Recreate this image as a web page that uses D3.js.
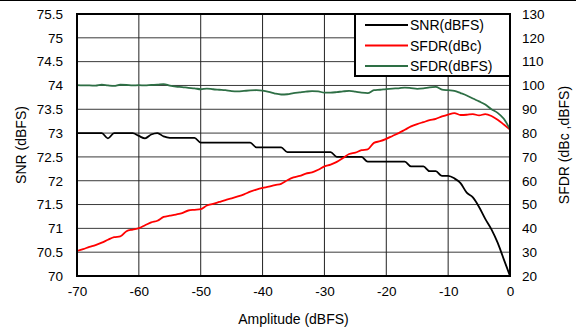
<!DOCTYPE html>
<html>
<head>
<meta charset="utf-8">
<script src="https://cdn.jsdelivr.net/npm/d3@7"></script>
<style>
  body { margin: 0; background: #fff; }
  text { font-family: "Liberation Sans", Arial, sans-serif; fill: #000; }
</style>
</head>
<body>
<div id="chart"></div>
<script>
const amplitude = d3.range(-70, 1); // -70 ... 0 dBFS, 1 dB steps

const snr = [
  73.0, 73.0, 73.0, 73.0, 73.0, 72.89, 73.0, 73.0, 73.0, 73.0,
  72.94, 72.89, 72.97, 73.0, 72.93, 72.9, 72.9, 72.9, 72.9, 72.9,
  72.8, 72.8, 72.8, 72.8, 72.8, 72.8, 72.8, 72.8, 72.8, 72.7,
  72.7, 72.7, 72.7, 72.7, 72.6, 72.6, 72.6, 72.6, 72.6, 72.6,
  72.6, 72.6, 72.5, 72.5, 72.5, 72.5, 72.5, 72.4, 72.4, 72.4,
  72.4, 72.4, 72.4, 72.4, 72.3, 72.3, 72.3, 72.2, 72.2, 72.1,
  72.1, 72.05, 71.95, 71.75, 71.65, 71.45, 71.2, 70.98, 70.7, 70.35,
  70.0
];

const sfdrDbc = [
  30.5, 31.3, 32.2, 33.0, 34.0, 35.2, 36.3, 36.6, 38.8, 39.5,
  40.1, 41.3, 42.5, 43.2, 44.8, 45.3, 45.8, 46.4, 47.5, 47.8,
  48.1, 49.6, 50.3, 51.1, 51.9, 52.6, 53.4, 54.3, 55.4, 56.3,
  57.0, 57.5, 58.2, 58.7, 60.2, 61.4, 62.0, 63.0, 63.5, 64.6,
  66.0, 66.8, 67.9, 69.5, 71.2, 71.8, 72.8, 73.2, 75.9, 76.6,
  77.6, 78.8, 80.0, 81.4, 82.8, 83.8, 84.6, 85.4, 86.0, 87.0,
  87.8, 88.4, 87.6, 87.7, 88.0, 87.4, 88.0, 87.2, 85.6, 83.6,
  81.5
];

const sfdrDbfs = [
  100.1, 100.0, 100.0, 99.9, 100.3, 100.0, 99.8, 100.3, 100.2, 100.0,
  100.1, 100.0, 100.2, 100.3, 100.6, 99.9, 99.5, 99.3, 99.0, 98.8,
  98.4, 98.7, 98.4, 98.2, 98.0, 97.6, 97.5, 97.7, 97.9, 98.0,
  97.8, 97.3, 96.6, 96.2, 96.3, 96.8, 97.1, 97.4, 97.6, 97.5,
  97.0, 97.0, 97.2, 97.5, 97.7, 97.4, 97.0, 96.8, 98.0, 98.2,
  98.5, 98.7, 98.8, 99.1, 98.9, 98.6, 98.8, 99.2, 99.4, 98.3,
  98.0, 97.7, 96.8, 95.8, 94.5, 93.3, 92.0, 90.0, 88.5, 86.0,
  81.6
];

const xTicks = [-70, -60, -50, -40, -30, -20, -10, 0];
const leftTicks = [70, 70.5, 71, 71.5, 72, 72.5, 73, 73.5, 74, 74.5, 75, 75.5];
const rightTicks = [20, 30, 40, 50, 60, 70, 80, 90, 100, 110, 120, 130];

const series = [
  { name: "SNR(dBFS)", values: snr, axis: "left", color: "#000000" },
  { name: "SFDR(dBc)", values: sfdrDbc, axis: "right", color: "#ff0000" },
  { name: "SFDR(dBFS)", values: sfdrDbfs, axis: "right", color: "#2e6f45" },
];

const width = 576, height = 329;
const marginLeft = 77, marginRight = 66, marginTop = 14, marginBottom = 53;

const svg = d3.select("#chart").append("svg")
  .attr("width", width)
  .attr("height", height);

const xScale = d3.scaleLinear().domain([-70, 0]).range([marginLeft, width - marginRight]);
const yLeft = d3.scaleLinear().domain([70, 75.5]).range([height - marginBottom, marginTop]);
const yRight = d3.scaleLinear().domain([20, 130]).range([height - marginBottom, marginTop]);

// thin line across the top edge
svg.append("line")
  .attr("x1", 0).attr("x2", width)
  .attr("y1", 0.5).attr("y2", 0.5)
  .attr("stroke", "#000").attr("stroke-width", 1);

// gridlines
svg.append("g")
  .selectAll("line")
  .data(leftTicks.slice(1, -1))
  .join("line")
  .attr("x1", marginLeft).attr("x2", width - marginRight)
  .attr("y1", (d) => yLeft(d)).attr("y2", (d) => yLeft(d))
  .attr("stroke", "#3a3a3a").attr("stroke-width", 1);

svg.append("g")
  .selectAll("line")
  .data(xTicks.slice(1, -1))
  .join("line")
  .attr("x1", (d) => xScale(d)).attr("x2", (d) => xScale(d))
  .attr("y1", marginTop).attr("y2", height - marginBottom)
  .attr("stroke", "#222").attr("stroke-width", 1);

// axes (labels only, frame drawn separately); plain hyphen minus like the original
const plain = (d) => String(d);
const xAxis = d3.axisBottom(xScale).tickValues(xTicks).tickSize(0).tickPadding(10).tickFormat(plain);
const leftAxis = d3.axisLeft(yLeft).tickValues(leftTicks).tickSize(0).tickPadding(14).tickFormat(plain);
const rightAxis = d3.axisRight(yRight).tickValues(rightTicks).tickSize(0).tickPadding(12).tickFormat(plain);

const styleAxis = (g) => {
  g.select(".domain").remove();
  g.selectAll("text")
    .style("font-family", '"Liberation Sans", Arial, sans-serif')
    .style("font-size", "13.5px")
    .attr("fill", "#000");
};

svg.append("g")
  .attr("transform", `translate(0,${height - marginBottom})`)
  .call(xAxis).call(styleAxis);
svg.append("g")
  .attr("transform", `translate(${marginLeft},0)`)
  .call(leftAxis).call(styleAxis);
svg.append("g")
  .attr("transform", `translate(${width - marginRight},0)`)
  .call(rightAxis).call(styleAxis);

// data lines
series.forEach((s) => {
  const yScale = s.axis === "left" ? yLeft : yRight;
  const line = d3.line()
    .x((d, i) => xScale(amplitude[i]))
    .y((d) => yScale(d))
    .curve(d3.curveMonotoneX);
  svg.append("path")
    .datum(s.values)
    .attr("d", line)
    .attr("fill", "none")
    .attr("stroke", s.color)
    .attr("stroke-width", 1.8)
    .attr("stroke-linejoin", "round");
});

// plot frame
svg.append("rect")
  .attr("x", marginLeft).attr("y", marginTop)
  .attr("width", width - marginLeft - marginRight)
  .attr("height", height - marginTop - marginBottom)
  .attr("fill", "none").attr("stroke", "#000").attr("stroke-width", 2);

// axis titles
svg.append("text")
  .attr("x", (marginLeft + width - marginRight) / 2)
  .attr("y", 324)
  .attr("text-anchor", "middle")
  .style("font-size", "14px")
  .text("Amplitude (dBFS)");

svg.append("text")
  .attr("transform", `translate(26,${(marginTop + height - marginBottom) / 2}) rotate(-90)`)
  .attr("text-anchor", "middle")
  .style("font-size", "14px")
  .text("SNR (dBFS)");

svg.append("text")
  .attr("transform", `translate(569,${(marginTop + height - marginBottom) / 2}) rotate(-90)`)
  .attr("text-anchor", "middle")
  .style("font-size", "14px")
  .text("SFDR (dBc ,dBFS)");

// legend
const legend = svg.append("g").attr("id", "legend");
legend.append("rect")
  .attr("x", 355).attr("y", marginTop)
  .attr("width", width - marginRight - 355)
  .attr("height", 62)
  .attr("fill", "#fff").attr("stroke", "#000").attr("stroke-width", 2);

const rows = legend.selectAll("g.item")
  .data(series)
  .join("g")
  .attr("class", "item")
  .attr("transform", (d, i) => `translate(0,${25 + i * 20.5})`);

rows.append("line")
  .attr("x1", 365).attr("x2", 408)
  .attr("stroke", (d) => d.color).attr("stroke-width", 1.8);

rows.append("text")
  .attr("x", 410).attr("y", 5)
  .style("font-size", "14px")
  .text((d) => d.name);
</script>
</body>
</html>
